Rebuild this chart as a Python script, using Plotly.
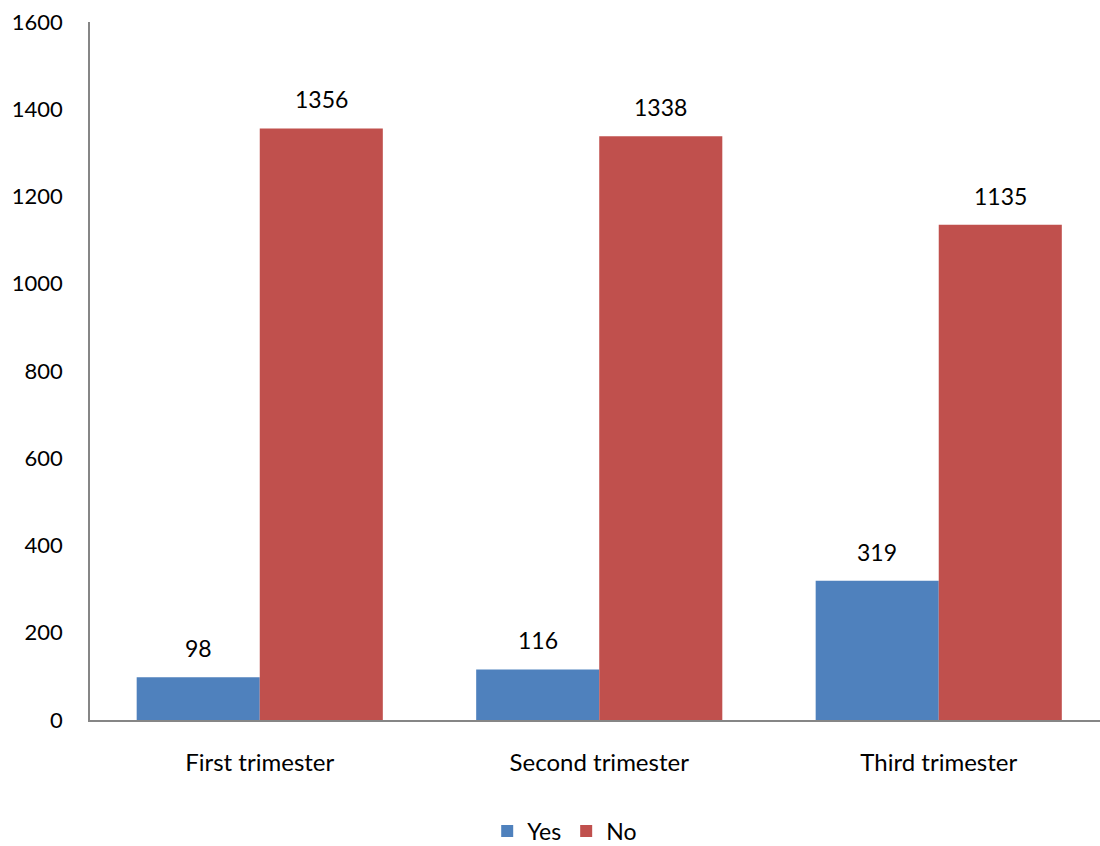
import plotly.graph_objects as go

categories = ["First trimester", "Second trimester", "Third trimester"]
yes_values = [98, 116, 319]
no_values = [1356, 1338, 1135]
y_ticks = [0, 200, 400, 600, 800, 1000, 1200, 1400, 1600]

FONT = "Lato, Carlito, Calibri, sans-serif"
BAR_GAP = 0.275
X_RANGE = [-0.5, 2.475]
PLOT_LEFT, PLOT_RIGHT = 90, 1100

fig = go.Figure()
fig.add_trace(go.Bar(
    name="Yes", x=categories, y=yes_values,
    marker=dict(color="#4F81BD", line=dict(width=0)),
))
fig.add_trace(go.Bar(
    name="No", x=categories, y=no_values,
    marker=dict(color="#C0504D", line=dict(width=0)),
))

# value labels above each bar, shifted to the centre of its bar in the group
px_per_cat = (PLOT_RIGHT - PLOT_LEFT) / (X_RANGE[1] - X_RANGE[0])
bar_px = px_per_cat * (1 - BAR_GAP) / 2
for values, shift in ((yes_values, -bar_px / 2), (no_values, bar_px / 2)):
    for cat, v in zip(categories, values):
        fig.add_annotation(
            x=cat, y=v, text=str(v), showarrow=False,
            xshift=shift, yshift=13, yanchor="bottom",
            font=dict(size=23, color="#000000", family=FONT),
        )

fig.update_layout(
    width=1100, height=846,
    barmode="group", bargap=BAR_GAP, bargroupgap=0,
    plot_bgcolor="white", paper_bgcolor="white",
    margin=dict(l=PLOT_LEFT, r=0, t=22, b=126, autoexpand=False),
    font=dict(family=FONT, size=23, color="#000000"),
    showlegend=True,
    legend=dict(
        orientation="h", x=0.47, xanchor="center", y=-0.159, yanchor="middle",
        font=dict(size=23), traceorder="normal",
    ),
)
fig.update_xaxes(
    type="category", range=X_RANGE, automargin=False,
    showline=True, linecolor="#868686", linewidth=1.5,
    ticks="outside", ticklen=20, tickcolor="rgba(0,0,0,0)",
    tickfont=dict(size=24),
    showgrid=False, zeroline=False,
)
fig.update_yaxes(
    range=[0, 1600], tickvals=y_ticks, automargin=False,
    showline=True, linecolor="#868686", linewidth=1.5,
    ticks="outside", ticklen=21, tickcolor="rgba(0,0,0,0)",
    tickfont=dict(size=22),
    showgrid=False, zeroline=False,
)

fig.write_html("out.html")
